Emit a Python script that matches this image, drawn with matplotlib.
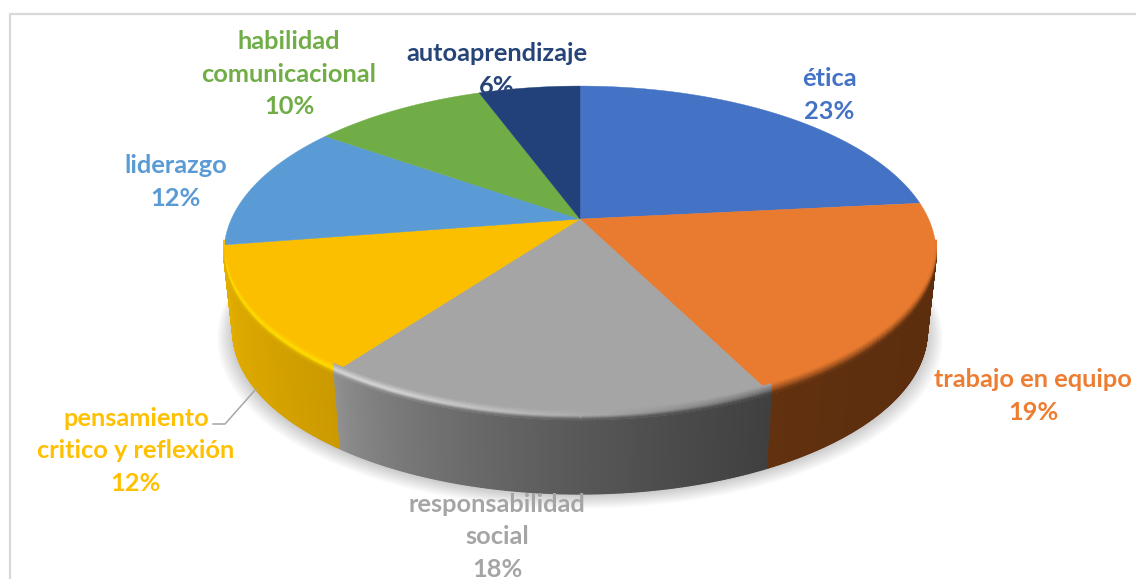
import numpy as np
import matplotlib
matplotlib.use("Agg")
import matplotlib.pyplot as plt
from matplotlib.collections import PolyCollection
from matplotlib.colors import to_rgb

names = ["ética", "trabajo en equipo", "responsabilidad\nsocial", "pensamiento\ncritico y reflexión",
         "liderazgo", "habilidad\ncomunicacional", "autoaprendizaje"]
shares = [23.4, 19.2, 17.5, 12.4, 12.3, 9.6, 5.6]
colors = ["#4472C4", "#E97B30", "#A5A5A5", "#FCBF00", "#5B9BD5", "#70AD47", "#22417A"]
text_colors = ["#4472C4", "#ED7D31", "#A5A5A5", "#FFC000", "#5B9BD5", "#70AD47", "#264478"]
wall_left = ["#4472C4", "#633210", "#949494", "#E2AE00", "#5B9BD5", "#70AD47", "#22417A"]
wall_right = ["#4472C4", "#5C2E0E", "#404040", "#CC9A00", "#5B9BD5", "#70AD47", "#22417A"]
highlight = ["#4472C4", "#E97B30", "#D8D8D8", "#FFDD00", "#5B9BD5", "#70AD47", "#22417A"]
label_x = [829, 1033, 497, 136, 176, 289, 497]
label_y = [95, 396, 537, 451, 182, 74, 70]

# tilted disc, everything in picture pixels
cx, cy = 580, 219
rx, ry = 348.6, 160
k = 0.2036
drop, shrink = 79, 0.975
bevel = 10


def proj(theta, s=1.0, d=0.0):
    t = np.radians(theta)
    u, v = np.sin(t), np.cos(t)
    w = 1 + k*v
    return cx + s*rx*u/w, cy - s*ry*v/w + d


def mix(a, b, t):
    a, b = np.array(to_rgb(a)), np.array(to_rgb(b))
    return tuple(a + (b-a)*t)


fig = plt.figure(figsize=(11.36, 5.79), dpi=100)
ax = fig.add_axes([0, 0, 1, 1])
ax.set_xlim(0, 1136)
ax.set_ylim(579, 0)
ax.axis("off")

# chart border
ax.plot([10, 10, 1136], [579, 14, 14], color="#D9D9D9", lw=1.6, zorder=1)

edges = np.concatenate([[0], np.cumsum(shares)]) / np.sum(shares) * 360

# soft shadow
full = np.arange(0, 361, 2)
for g in np.linspace(0, 1, 18):
    x, y = proj(full, s=shrink + 0.045*g, d=drop + 1 + 5*g)
    ax.fill(x, y, color="black", alpha=0.013, lw=0, zorder=2)


def front_angles(i):
    # part of slice i that faces the viewer, and its x span for the shading
    ang = np.linspace(edges[i], edges[i+1], max(int(edges[i+1]-edges[i])*3, 2))
    ang = ang[np.cos(np.radians(ang)) < -0.18]
    if len(ang) < 2:
        return ang, 0, 1
    x, _ = proj(ang)
    return ang, x.min(), x.max()


# side wall
quads, quad_cols = [], []
for i in range(len(shares)):
    ang, x0, x1 = front_angles(i)
    for p, q in zip(ang[:-1], ang[1:]):
        xa, ya = proj(p)
        xb, yb = proj(q)
        xc, yc = proj(q, s=shrink, d=drop)
        xd, yd = proj(p, s=shrink, d=drop)
        quads.append([(xa, ya), (xb, yb), (xc, yc), (xd, yd)])
        t = (xa-x0)/(x1-x0)
        quad_cols.append(mix(wall_left[i], wall_right[i], t**0.6))
ax.add_collection(PolyCollection(quads, facecolors=quad_cols, edgecolors=quad_cols, linewidths=1.0, zorder=3))

# top face
for i in range(len(shares)):
    ang = np.linspace(edges[i], edges[i+1], 120)
    x, y = proj(ang)
    ax.fill(np.r_[cx, x], np.r_[cy, y], color=colors[i], lw=0.3, zorder=4)

# bevel on the front rim
steps = np.linspace(0, 1, 11)
quads, quad_cols = [], []
for i in range(len(shares)):
    ang, x0, x1 = front_angles(i)
    for p, q in zip(ang[:-1], ang[1:]):
        m = (p+q)/2
        fade = np.clip((-0.18 - np.cos(np.radians(m)))/0.08, 0, 1)
        xm, _ = proj(m)
        tx = (xm-x0)/(x1-x0)
        wall = mix(wall_left[i], wall_right[i], tx**0.6)
        h = 1.0
        if i == 2:
            h = np.clip(1.15 - tx*1.1, 0, 1)
        if i == 1:
            h = 0.0
        peak = mix(mix(colors[i], wall, 0.55), highlight[i], h)
        for s1, s2 in zip(steps[:-1], steps[1:]):
            t = (s1+s2)/2
            if t < 0.6:
                c = mix(colors[i], peak, t/0.6)
            else:
                c = mix(peak, wall, (t-0.6)/0.4)
            c = mix(colors[i], c, fade)
            xa, ya = proj(p, d=-bevel*(1-s1))
            xb, yb = proj(q, d=-bevel*(1-s1))
            xc, yc = proj(q, d=-bevel*(1-s2))
            xd, yd = proj(p, d=-bevel*(1-s2))
            quads.append([(xa, ya), (xb, yb), (xc, yc), (xd, yd)])
            quad_cols.append(c)
ax.add_collection(PolyCollection(quads, facecolors=quad_cols, edgecolors=quad_cols, linewidths=0.7, zorder=5))

# leader line for the yellow label
ax.plot([256, 225, 213], [389, 424, 424], color="#A6A6A6", lw=1.1, zorder=6)

for i in range(len(names)):
    txt = "%s\n%d%%" % (names[i], round(shares[i]))
    ax.text(label_x[i], label_y[i], txt, color=text_colors[i], ha="center", va="center",
            family="Lato", weight="bold", fontsize=18.3, linespacing=1.5, zorder=7)

fig.savefig("out.png", dpi=100)
